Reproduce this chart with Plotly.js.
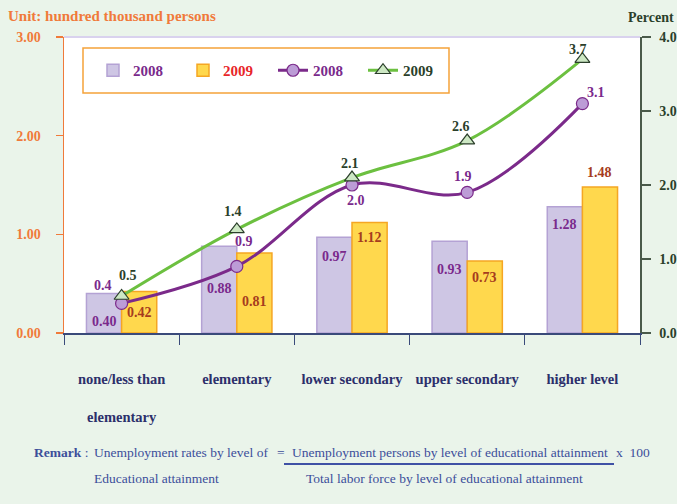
<!DOCTYPE html>
<html>
<head>
<meta charset="utf-8">
<script src="https://cdn.plot.ly/plotly-3.0.1.min.js"></script>
<style>
  html, body { margin: 0; padding: 0; background: #EAF4EA; }
  #chart { width: 677px; height: 504px; }
</style>
</head>
<body>
<div id="chart"></div>
<script>
// ---- data ----
const categories = ['none/less than elementary', 'elementary', 'lower secondary', 'upper secondary', 'higher level'];
const tickLabels = ['none/less than<br><br>elementary', 'elementary', 'lower secondary', 'upper secondary', 'higher level'];
const persons2008 = [0.40, 0.88, 0.97, 0.93, 1.28];
const persons2009 = [0.42, 0.81, 1.12, 0.73, 1.48];
const rate2008 = [0.4, 0.9, 2.0, 1.9, 3.1];
const rate2009 = [0.5, 1.4, 2.1, 2.6, 3.7];
const leftTicks = [0, 1, 2, 3];
const rightTicks = [0, 1, 2, 3, 4];

// ---- label placement (pixel shifts, styling only) ----
const barShiftY2008 = [-28, -42, -19, -28, -18];
const barShiftY2009 = [-21, -48, -15, -17, 14];
const rateShiftX2008 = [-19, 7, 4, -4, 14];
const rateShiftY2008 = [18, 25, -15, 16, 11];
const rateShiftX2009 = [6, -4, -2, -6, -4];
const rateShiftY2009 = [21, 18, 14, 14, 10];

const SERIF = 'Liberation Serif, Times New Roman, serif';
const PURPLE = '#7A2A8C';
const BROWN = '#A63C1E';
const DKGREEN = '#2B3F2B';
const ORANGE = '#F07A3A';
const NAVY = '#2C2F6B';
const REMARK = '#3C4E9A';

const traces = [
  {
    type: 'bar', x: categories, y: persons2008,
    name: '<span style="color:' + PURPLE + '">2008</span>',
    marker: { color: '#CEC6E4', line: { color: '#B4A2D4', width: 1.5 } },
    hoverinfo: 'skip'
  },
  {
    type: 'bar', x: categories, y: persons2009,
    name: '<span style="color:#E8262A">2009</span>',
    marker: { color: '#FFD84D', line: { color: '#F5A623', width: 1.5 } },
    hoverinfo: 'skip'
  },
  {
    type: 'scatter', mode: 'lines+markers', x: categories, y: rate2008, yaxis: 'y2',
    name: '<span style="color:' + PURPLE + '">2008</span>',
    line: { color: '#7B2A8A', width: 3, shape: 'spline', smoothing: 1 },
    marker: { symbol: 'circle', size: 12, color: '#BC9CD6', line: { color: '#7B2A8A', width: 1.2 } },
    hoverinfo: 'skip'
  },
  {
    type: 'scatter', mode: 'lines+markers', x: categories, y: rate2009, yaxis: 'y2',
    name: '<span style="color:' + DKGREEN + '">2009</span>',
    line: { color: '#6CC040', width: 3, shape: 'spline', smoothing: 1 },
    marker: { symbol: 'triangle-up', size: 13, color: '#CDE8C4', line: { color: DKGREEN, width: 1.2 } },
    hoverinfo: 'skip'
  }
];

const annotations = [];
const bfont = (c, s) => ({ family: SERIF, size: s || 14, color: c, weight: 'bold' });

categories.forEach((c, i) => {
  annotations.push({ x: c, y: persons2008[i], xref: 'x', yref: 'y', text: persons2008[i].toFixed(2),
    showarrow: false, xshift: -17.5, yshift: barShiftY2008[i], font: bfont(PURPLE, 14) });
  annotations.push({ x: c, y: persons2009[i], xref: 'x', yref: 'y', text: persons2009[i].toFixed(2),
    showarrow: false, xshift: 17.5, yshift: barShiftY2009[i], font: bfont(BROWN, 14) });
  annotations.push({ x: c, y: rate2008[i], xref: 'x', yref: 'y2', text: rate2008[i].toFixed(1),
    showarrow: false, xshift: rateShiftX2008[i], yshift: rateShiftY2008[i], font: bfont(PURPLE, 14) });
  annotations.push({ x: c, y: rate2009[i], xref: 'x', yref: 'y2', text: rate2009[i].toFixed(1),
    showarrow: false, xshift: rateShiftX2009[i], yshift: rateShiftY2009[i], font: bfont(DKGREEN, 14) });
});

// axis captions & remark
const PH = 296, PW = 576, PL = 64, PB = 333;
const px = (X) => (X - PL) / PW;
const py = (Y) => (PB - Y) / PH;
const rfont = { family: SERIF, size: 13.5, color: REMARK };

annotations.push(
  { xref: 'paper', yref: 'paper', x: px(676), y: py(18), xanchor: 'right', yanchor: 'middle', showarrow: false,
    text: 'Percent', font: bfont(DKGREEN, 14) },
  { xref: 'paper', yref: 'paper', x: px(32), y: py(452), xanchor: 'left', yanchor: 'middle', showarrow: false,
    text: '<b>Remark</b> :', font: rfont },
  { xref: 'paper', yref: 'paper', x: px(92), y: py(452), xanchor: 'left', yanchor: 'middle', showarrow: false,
    text: 'Unemployment rates by level of', font: rfont },
  { xref: 'paper', yref: 'paper', x: px(281), y: py(452), xanchor: 'center', yanchor: 'middle', showarrow: false,
    text: '=', font: rfont },
  { xref: 'paper', yref: 'paper', x: px(290), y: py(452), xanchor: 'left', yanchor: 'middle', showarrow: false,
    text: 'Unemployment persons by level of educational attainment', font: rfont },
  { xref: 'paper', yref: 'paper', x: px(614), y: py(452), xanchor: 'left', yanchor: 'middle', showarrow: false,
    text: 'x&nbsp;&nbsp;100', font: rfont },
  { xref: 'paper', yref: 'paper', x: px(92), y: py(478), xanchor: 'left', yanchor: 'middle', showarrow: false,
    text: 'Educational attainment', font: rfont },
  { xref: 'paper', yref: 'paper', x: px(444), y: py(478), xanchor: 'center', yanchor: 'middle', showarrow: false,
    text: 'Total labor force by level of educational attainment', font: rfont }
);

const layout = {
  width: 677, height: 504,
  margin: { l: 64, r: 37, t: 37, b: 171, pad: 0 },
  paper_bgcolor: '#EAF4EA',
  plot_bgcolor: '#FFFFFF',
  font: { family: SERIF },
  title: {
    text: 'Unit: hundred thousand persons',
    x: 8 / 677, xanchor: 'left', xref: 'container',
    y: 1 - 16 / 504, yanchor: 'middle', yref: 'container',
    font: bfont(ORANGE, 15)
  },
  barmode: 'group', bargap: 0.39, bargroupgap: 0,
  showlegend: true,
  legend: {
    orientation: 'h', x: px(93), y: py(70.5), xanchor: 'left', yanchor: 'middle',
    bgcolor: 'rgba(0,0,0,0)', borderwidth: 0,
    font: bfont(PURPLE, 15), entrywidth: 45, entrywidthmode: 'pixels', itemwidth: 30
  },
  xaxis: {
    type: 'category', categoryarray: categories, tickvals: categories, ticktext: tickLabels,
    tickson: 'boundaries', ticks: 'outside', ticklen: 10, tickcolor: '#3A4A7A', tickwidth: 1,
    showline: true, linecolor: '#3A4A7A', linewidth: 1.5, showgrid: false, zeroline: false,
    tickangle: 0, automargin: false,
    tickfont: bfont(NAVY, 14.5), ticklabelstandoff: 32, fixedrange: true
  },
  xaxis2: {
    overlaying: 'x', anchor: 'y', type: 'linear', range: [-0.5, 4.5], tick0: 0.5, dtick: 1,
    ticks: 'inside', ticklen: 9, tickcolor: '#3A4A7A', showticklabels: false, showline: false,
    showgrid: false, zeroline: false
  },
  yaxis: {
    range: [0, 3], tickvals: leftTicks, tickformat: '.2f', ticks: 'outside', ticklen: 7,
    tickcolor: ORANGE, tickwidth: 1.2, showline: true, linecolor: ORANGE, linewidth: 1.5,
    showgrid: false, zeroline: false, tickfont: bfont(ORANGE, 14), ticklabelstandoff: 12
  },
  yaxis2: {
    overlaying: 'y', side: 'right', anchor: 'x', range: [0, 4], tickvals: rightTicks, tickformat: '.1f',
    ticks: 'outside', ticklen: 9, tickcolor: '#4A5A4A', tickwidth: 1.2, showline: true,
    linecolor: '#4A5A4A', linewidth: 1.5, showgrid: false, zeroline: false,
    tickfont: bfont(DKGREEN, 14), ticklabelstandoff: 6
  },
  yaxis3: {
    overlaying: 'y', side: 'left', anchor: 'x', range: [0, 3], tickvals: leftTicks, ticks: 'inside', ticklen: 8,
    tickcolor: ORANGE, tickwidth: 1.2, showticklabels: false, showline: false, showgrid: false, zeroline: false
  },
  yaxis4: {
    overlaying: 'y', side: 'right', anchor: 'x', range: [0, 4], tickvals: rightTicks, ticks: 'inside', ticklen: 7,
    tickcolor: '#4A5A4A', tickwidth: 1.2, showticklabels: false, showline: false, showgrid: false, zeroline: false
  },
  shapes: [
    { type: 'line', xref: 'paper', yref: 'paper', x0: 0, x1: 1, y0: 1, y1: 1,
      line: { color: '#D9D2EE', width: 2 } },
    { type: 'rect', xref: 'paper', yref: 'paper', x0: px(83), x1: px(449), y0: py(93), y1: py(48),
      fillcolor: '#FFFFFF', line: { color: '#F5A23A', width: 1.5 }, layer: 'below' },
    { type: 'line', xref: 'paper', yref: 'paper', x0: px(284), x1: px(614), y0: py(464), y1: py(464),
      line: { color: '#3F51A5', width: 2 } }
  ],
  annotations: annotations
};

Plotly.newPlot('chart', traces, layout, { displayModeBar: false, staticPlot: true });
</script>
</body>
</html>
